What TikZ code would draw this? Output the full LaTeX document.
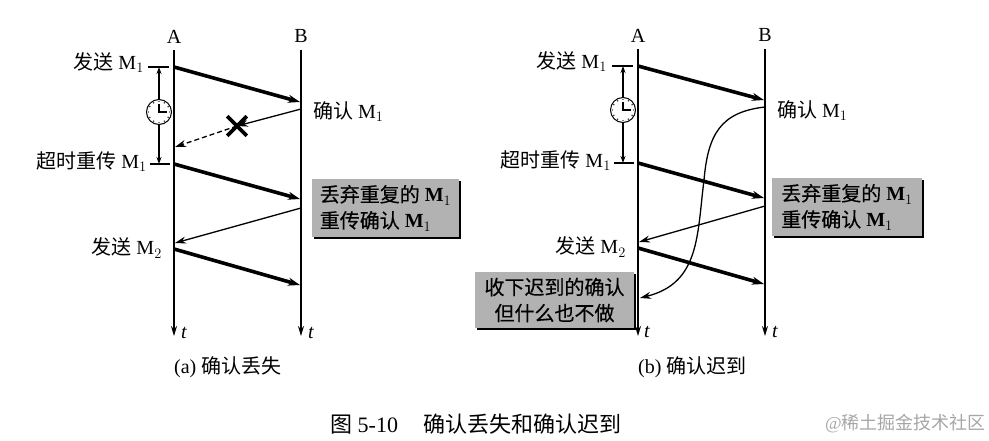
\documentclass[tikz,border=0pt]{standalone}
\usepackage{fontspec}
\setmainfont{Liberation Serif}
\newfontfamily\cjk{Noto Sans CJK SC}
\newfontfamily\cjkb[FakeBold=0.3]{Noto Sans CJK SC}
\usetikzlibrary{arrows.meta,shapes.misc,shadows}
\newcommand{\Mi}{M$_1$}
\newcommand{\Mii}{M$_2$}
\newcommand{\notetxt}[1]{{\mdseries\cjkb #1}}

\begin{document}
\begin{tikzpicture}[
    x=1pt, y=-1pt,
    lbl/.style={inner sep=0pt, font=\fontsize{20}{24}\selectfont},
    tlbl/.style={inner sep=0pt, font=\fontsize{20}{24}\selectfont\itshape},
    timeline/.style={-{Stealth[length=10pt,width=6pt]}, line width=1.5pt},
    data/.style={-{Stealth[length=12pt,width=8pt]}, line width=3.6pt},
    ack/.style={-{Stealth[length=11pt,width=7pt]}, line width=1.3pt},
    tickline/.style={line width=1.3pt},
    timer/.style={{Stealth[length=7pt,width=5pt]}-{Stealth[length=7pt,width=5pt]}, line width=1.2pt},
    clock/.style={draw, circle, fill=white, line width=1pt, minimum size=25pt, inner sep=0pt},
    note/.style={fill=black!30, align=left, inner sep=0pt, font=\fontsize{20}{26}\selectfont\bfseries,
        drop shadow={shadow xshift=1.5pt, shadow yshift=-1.5pt, fill=black, opacity=1}},
]
    \useasboundingbox (0,0) rectangle (989,440);

    % (a) time lines
    \node[lbl] (a_name) at (174,37) {A};
    \node[lbl] (b_name) at (301,36) {B};
    \coordinate (a_top) at (174,50);
    \coordinate (a_end) at (174,336);
    \coordinate (b_top) at (301,50);
    \coordinate (b_end) at (301,336);
    \draw[timeline] (a_top) -- (a_end);
    \draw[timeline] (b_top) -- (b_end);
    \node[tlbl] (a_t) at (184,333) {t};
    \node[tlbl] (b_t) at (311,333) {t};

    % (a) points on the lines
    \coordinate (a_s1) at (174,67);
    \coordinate (b_r1) at (300,102);
    \coordinate (b_c1) at (301,109);
    \coordinate (a_c1) at (175,147);
    \coordinate (a_s2) at (174,164);
    \coordinate (b_r2) at (300,199);
    \coordinate (b_c2) at (301,208);
    \coordinate (a_c2) at (175,243);
    \coordinate (a_s3) at (174,249);
    \coordinate (b_r3) at (300,285);

    % (a) labels
    \node[lbl, anchor=east] (send1) at (144,63) {{\cjk 发送} \Mi};
    \node[lbl, anchor=east] (resend) at (147,162) {{\cjk 超时重传} \Mi};
    \node[lbl, anchor=east] (send2) at (162,248) {{\cjk 发送} \Mii};
    \node[lbl, anchor=west] (conf1) at (313,112) {{\cjk 确认} \Mi};
    \node[note, minimum width=147pt, minimum height=58pt] (dup) at (385.5,208) {\notetxt{丢弃重复的} \Mi\\\notetxt{重传确认} \Mi};

    % (a) timer
    \coordinate (tk1_l) at (148,67);
    \coordinate (tk1_r) at (169,67);
    \coordinate (tk2_l) at (150,164);
    \coordinate (tk2_r) at (170,164);
    \coordinate (tm1) at (159,67);
    \coordinate (tm2) at (159,164);
    \draw[tickline] (tk1_l) -- (tk1_r);
    \draw[tickline] (tk2_l) -- (tk2_r);
    \draw[timer] (tm1) -- (tm2);
    \node[clock] (clk) at (159,112) {};
    \foreach \ang in {0,30,...,330}
        \fill (clk.center) ++(\ang:10.5pt) circle (0.7pt);
    \draw[line width=1.2pt] (clk.center) ++(0,-8) -- (clk.center) -- ++(8,0);

    % (a) messages
    \draw[data] (a_s1) -- (b_r1);
    \node[draw, cross out, line width=3.6pt, minimum size=16pt, inner sep=0pt] (lost) at (237,126) {};
    \draw[ack] (b_c1) -- (lost.center);
    \draw[ack, dashed, dash pattern=on 5pt off 3pt] (lost.center) -- (a_c1);
    \draw[data] (a_s2) -- (b_r2);
    \draw[ack] (b_c2) -- (a_c2);
    \draw[data] (a_s3) -- (b_r3);

    % (b) time lines
    \node[lbl] (ar_name) at (638,36) {A};
    \node[lbl] (br_name) at (765,35) {B};
    \coordinate (ar_top) at (638,49);
    \coordinate (ar_end) at (638,336);
    \coordinate (br_top) at (765,49);
    \coordinate (br_end) at (765,336);
    \draw[timeline] (ar_top) -- (ar_end);
    \draw[timeline] (br_top) -- (br_end);
    \node[tlbl] (ar_t) at (647,332) {t};
    \node[tlbl] (br_t) at (775,332) {t};

    % (b) points on the lines
    \coordinate (ar_s1) at (638,66);
    \coordinate (br_r1) at (764,100);
    \coordinate (br_c1) at (765,107);
    \coordinate (ar_c1) at (640,298);
    \coordinate (ar_s2) at (638,163);
    \coordinate (br_r2) at (764,198);
    \coordinate (br_c2) at (765,206);
    \coordinate (ar_c2) at (639,242);
    \coordinate (ar_s3) at (638,248);
    \coordinate (br_r3) at (764,284);

    % (b) labels
    \node[lbl, anchor=east] (sendr1) at (607,62) {{\cjk 发送} \Mi};
    \node[lbl, anchor=east] (resendr) at (611,161) {{\cjk 超时重传} \Mi};
    \node[lbl, anchor=east] (sendr2) at (626,247) {{\cjk 发送} \Mii};
    \node[lbl, anchor=west] (confr1) at (777,111) {{\cjk 确认} \Mi};
    \node[note, minimum width=150pt, minimum height=58pt] (dupr) at (847,207) {\notetxt{丢弃重复的} \Mi\\\notetxt{重传确认} \Mi};
    \node[note, align=center, minimum width=159pt, minimum height=56pt] (late) at (554.5,300) {\notetxt{收下迟到的确认}\\\notetxt{但什么也不做}};

    % (b) timer
    \coordinate (tkr1_l) at (612,66);
    \coordinate (tkr1_r) at (633,66);
    \coordinate (tkr2_l) at (614,163);
    \coordinate (tkr2_r) at (634,163);
    \coordinate (tmr1) at (623,66);
    \coordinate (tmr2) at (623,163);
    \draw[tickline] (tkr1_l) -- (tkr1_r);
    \draw[tickline] (tkr2_l) -- (tkr2_r);
    \draw[timer] (tmr1) -- (tmr2);
    \node[clock] (clkr) at (623,110) {};
    \foreach \ang in {0,30,...,330}
        \fill (clkr.center) ++(\ang:10.5pt) circle (0.7pt);
    \draw[line width=1.2pt] (clkr.center) ++(0,-8) -- (clkr.center) -- ++(8,0);

    % (b) messages
    \draw[data] (ar_s1) -- (br_r1);
    \coordinate (bend) at (704,180);
    \draw[ack] (br_c1) .. controls (720,112) and (708,135) .. (bend) .. controls (697,235) and (700,283) .. (ar_c1);
    \draw[data] (ar_s2) -- (br_r2);
    \draw[ack] (br_c2) -- (ar_c2);
    \draw[data] (ar_s3) -- (br_r3);

    % captions
    \node[lbl, anchor=west] (cap_a) at (174,367) {(a) {\cjk 确认丢失}};
    \node[lbl, anchor=west] (cap_b) at (638,367) {(b) {\cjk 确认迟到}};
    \node[lbl, anchor=west, font=\fontsize{22}{26}\selectfont] (cap) at (330,424) {{\cjk 图} 5-10\hspace{25pt}{\cjk 确认丢失和确认迟到}};
    \node[lbl, anchor=east, text=black!35, font=\fontsize{18}{22}\selectfont] (mark) at (986,424) {@{\cjk 稀土掘金技术社区}};
\end{tikzpicture}
\end{document}
